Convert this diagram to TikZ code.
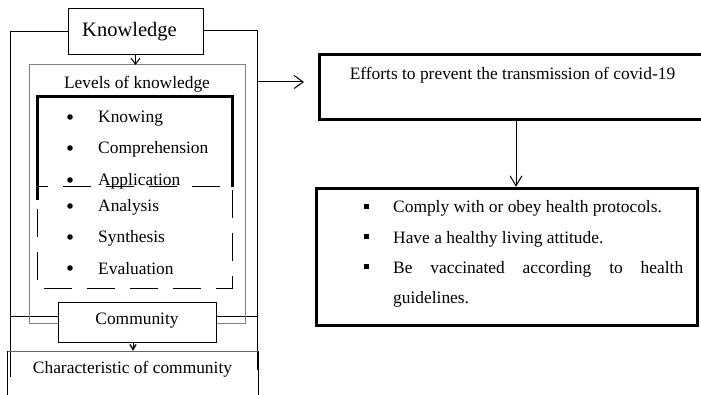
\documentclass[tikz,border=0pt]{standalone}
\usepackage{fontspec}
\setmainfont{Liberation Serif}
\usetikzlibrary{arrows.meta}
\newcommand\bodyfs{\fontsize{17.4}{20}\selectfont}
\newcommand\bigfs{\fontsize{20.5}{24}\selectfont}
\begin{document}
\begin{tikzpicture}[x=1pt,y=-1pt,
  thinline/.style={line width=1pt},
  thickline/.style={line width=3pt},
  grayline/.style={line width=1pt, draw=black!50},
  boxthin/.style={draw, line width=1pt, fill=white, inner sep=0pt},
  boxthick/.style={draw, line width=3pt, fill=white, inner sep=0pt},
  ghost/.style={inner sep=0pt},
  txt/.style={inner sep=0pt, font=\bodyfs},
  bigtxt/.style={inner sep=0pt, font=\bigfs},
  arrK/.style={line width=1pt, -{Straight Barb[length=6pt,width=9pt,line width=1pt]}},
  arrR/.style={line width=1pt, -{Straight Barb[length=9pt,width=13pt,line width=1pt]}},
  arrD/.style={line width=1pt, -{Straight Barb[length=10pt,width=12pt,line width=1pt]}},
  arrC/.style={line width=1pt, -{Straight Barb[length=5pt,width=6pt,line width=1.4pt]}},
  dashbox/.style={line width=1pt, dash pattern=on 28pt off 15pt, dash phase=17pt}
]
\useasboundingbox[fill=white] (0,0) rectangle (701,395);

% outer frame
\draw[thinline] (68,32) -- (10,32) -- (10,377);
\draw[thinline] (203,31) -- (257,31) -- (257,370);
\draw[thinline] (10,316) -- (58,316);
\draw[thinline] (216,316) -- (257,316);

% gray frame (levels of knowledge)
\draw[grayline] (58,323) -- (29,323) -- (29,65) -- (245,65) -- (245,323) -- (216,323);

% knowledge box
\node[boxthin, minimum width=135pt, minimum height=46pt] (know) at (135.5,32) {};
\node[bigtxt, anchor=base west] (knowt) at (82,37) {Knowledge};
\coordinate (lvtop) at (135.5,65);
\draw[arrK] (know.south) -- (lvtop);

\node[txt, anchor=base] (levels) at (137,88.5) {Levels of knowledge};

% thick box and dashed box
\draw[thickline] (37,200) -- (37,97) -- (232,97) -- (232,187);
\draw[dashbox] (37,187) -- (232,187) -- (232,288) -- (37,288) -- cycle;

% bullet items
\foreach \yb in {117,148,180,206,237,268} \fill (70,\yb) circle (2.8pt);
\node[txt, anchor=base west] (i1) at (98,123) {Knowing};
\node[txt, anchor=base west] (i2) at (98,153.5) {Comprehension};
\node[txt, anchor=base west] (i3) at (98,185.5) {Application};
\node[txt, anchor=base west] (i4) at (98,212) {Analysis};
\node[txt, anchor=base west] (i5) at (98,242.5) {Synthesis};
\node[txt, anchor=base west] (i6) at (98,274) {Evaluation};

% community
\node[boxthin, minimum width=158pt, minimum height=40pt] (comm) at (137,322) {};
\node[txt, anchor=base] (commt) at (137,324.5) {Community};

% characteristic of community
\draw[line width=0.8pt, draw=black!60] (7,351) -- (258,351);
\draw[thinline] (7,351) -- (7,400);
\draw[thinline] (258,351) -- (258,400);
\node[ghost, minimum width=251pt, minimum height=50pt] (charb) at (132.5,376) {};
\node[txt, anchor=base] (chart) at (132.5,373.5) {Characteristic of community};
\draw[arrC] (comm.south -| 133,0) -- (charb.north -| 133,0);

% efforts box
\node[ghost, minimum width=382.5pt, minimum height=64pt] (eff) at (510.75,87) {};
\draw[thickline] (eff.north east) -- (eff.north west) -- (eff.south west) -- (eff.south east);
\node[txt, anchor=base] (efft) at (512.5,79.5) {Efforts to prevent the transmission of covid-19};
\coordinate (ar1) at (257,82);
\coordinate (ar2) at (304,82);
\draw[arrR] (ar1) -- (ar2);

% protocols box
\node[boxthick, minimum width=381pt, minimum height=137.5pt] (prot) at (506.5,257) {};
\draw[arrD] (516,119) coordinate (d1) -- (d1 |- prot.north);

\foreach \yb in {207,237,267} \fill (363.5,\yb-2.5) rectangle (368.5,\yb+2.5);
\node[txt, anchor=base west] (p1) at (393,213) {Comply with or obey health protocols.};
\node[txt, anchor=base west] (p2) at (393,243.5) {Have a healthy living attitude.};
\node[txt, anchor=base west] (p3) at (393,273.5) {\makebox[290pt][s]{Be vaccinated according to health}};
\node[txt, anchor=base west] (p4) at (393,303.5) {guidelines.};
\end{tikzpicture}
\end{document}
